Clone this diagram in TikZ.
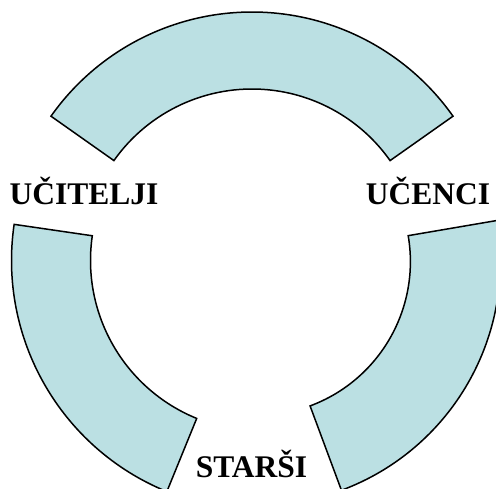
\documentclass[tikz,border=0pt]{standalone}
\usepackage{fontspec}
\newfontfamily\lblfont{Liberation Serif}
\definecolor{sectorfill}{RGB}{187,224,227}
\tikzset{
  sector/.style={fill=sectorfill, draw=black, line width=1.5pt, line join=miter},
  lbl/.style={font=\lblfont\bfseries\fontsize{31.5}{31.5}\selectfont, anchor=base, inner sep=0pt, text=black}
}
\begin{document}
\begin{tikzpicture}[x=1pt, y=1pt]
  \useasboundingbox (0,0) rectangle (496,488);
  \clip (0,0) rectangle (496,488);

  % upper band
  \coordinate (ctop) at (252,230);
  \draw[sector] ([shift={(35.2:246)}]ctop)
      arc[start angle=35.2, end angle=144.8, radius=246]
      -- ([shift={(144.8:169)}]ctop)
      arc[start angle=144.8, end angle=35.2, radius=169] -- cycle;

  % left band
  \coordinate (cleft) at (261.2,227.6);
  \draw[sector] ([shift={(171.7:249.7)}]cleft)
      arc[start angle=171.7, end angle=247.8, radius=249.7]
      -- ([shift={(247.8:170.7)}]cleft)
      arc[start angle=247.8, end angle=171.7, radius=170.7] -- cycle;

  % right band
  \coordinate (cright) at (256.4,226.4);
  \draw[sector] ([shift={(-69.6:244)}]cright)
      arc[start angle=-69.6, end angle=9.7, radius=244]
      -- ([shift={(9.7:154)}]cright)
      arc[start angle=9.7, end angle=-69.6, radius=154] -- cycle;

  % labels
  \node[lbl] (ucitelji) at (84,283) {UČITELJI};
  \node[lbl] (ucenci) at (428,283) {UČENCI};
  \node[lbl] (starsi) at (251.5,10) {STARŠI};
\end{tikzpicture}
\end{document}
